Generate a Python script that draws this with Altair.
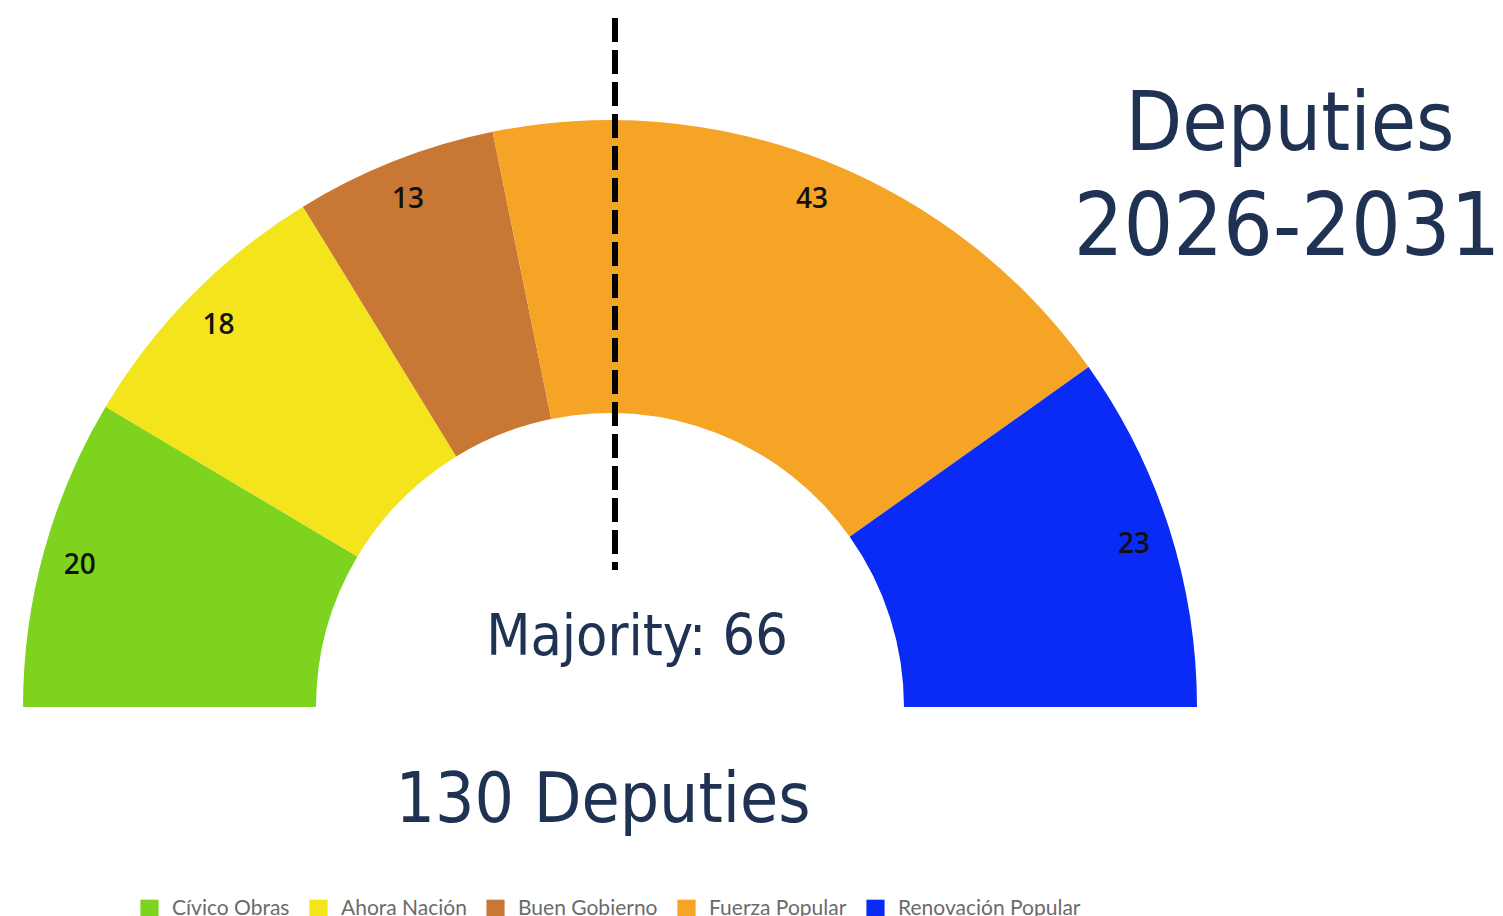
import math
import altair as alt
import pandas as pd

parties = ["Cívico Obras", "Ahora Nación", "Buen Gobierno", "Fuerza Popular", "Renovación Popular"]
seats = [20, 18, 13, 43, 23]
colors = ["#7ed31f", "#f4e41c", "#c87834", "#f5a425", "#0a2af5"]
order = [1, 2, 3, 4, 5]

df = pd.DataFrame({"party": parties, "seats": seats, "order": order})

CX, CY = 610, 707
R_OUT, R_IN = 587, 294
TEXT_FONT = "DejaVu Sans Condensed, sans-serif"
NAVY = "#203254"

theta = alt.Theta("seats:Q", stack=True,
                  scale=alt.Scale(range=[-math.pi / 2, math.pi / 2]))
color = alt.Color("party:N", title=None,
                  scale=alt.Scale(domain=parties, range=colors),
                  sort=parties,
                  legend=alt.Legend(orient="none", direction="horizontal",
                                    legendX=139, legendY=898, padding=0,
                                    symbolType="square", symbolSize=330,
                                    symbolStrokeWidth=0, symbolOpacity=1,
                                    labelFont="Lato", labelFontSize=21,
                                    labelColor="#6b6b6b", labelOffset=12,
                                    labelLimit=400, columnPadding=18))

base = alt.Chart(df)

arcs = base.mark_arc(radius=R_OUT, radius2=R_IN, stroke=None).encode(
    theta=theta,
    color=color,
    order=alt.Order("order:Q"),
    x=alt.value(CX),
    y=alt.value(CY),
)

labels = base.mark_text(radius=550, dy=5, font="Open Sans", fontSize=28,
                        fontWeight=600, color="#111111").encode(
    theta=theta,
    text="seats:Q",
    order=alt.Order("order:Q"),
    x=alt.value(CX),
    y=alt.value(CY),
)

rule = alt.Chart(pd.DataFrame({"k": [0]})).mark_rule(
    color="black", strokeWidth=6, strokeDash=[24, 8]).encode(
    x=alt.value(615), y=alt.value(18), y2=alt.value(570))

texts = pd.DataFrame({
    "t": ["Majority: 66", "130 Deputies", "Deputies", "2026-2031"],
    "x": [637, 603, 1290, 1287],
    "y": [655, 822, 150, 255],
    "s": [57, 69, 82, 87],
})

def txt(i):
    row = texts.iloc[i]
    return alt.Chart(texts.iloc[[i]]).mark_text(
        font=TEXT_FONT, fontSize=float(row["s"]), color=NAVY,
        align="center", baseline="alphabetic").encode(
        text="t:N", x=alt.value(int(row["x"])), y=alt.value(int(row["y"])))

chart = alt.layer(arcs, labels, rule, txt(0), txt(1), txt(2), txt(3)).properties(
    width=1503, height=916,
    autosize=alt.AutoSizeParams(type="none"),
    padding=0,
    background="white",
).configure_view(stroke=None)

chart.save("out.html", embed_options={"renderer": "svg", "actions": False})
